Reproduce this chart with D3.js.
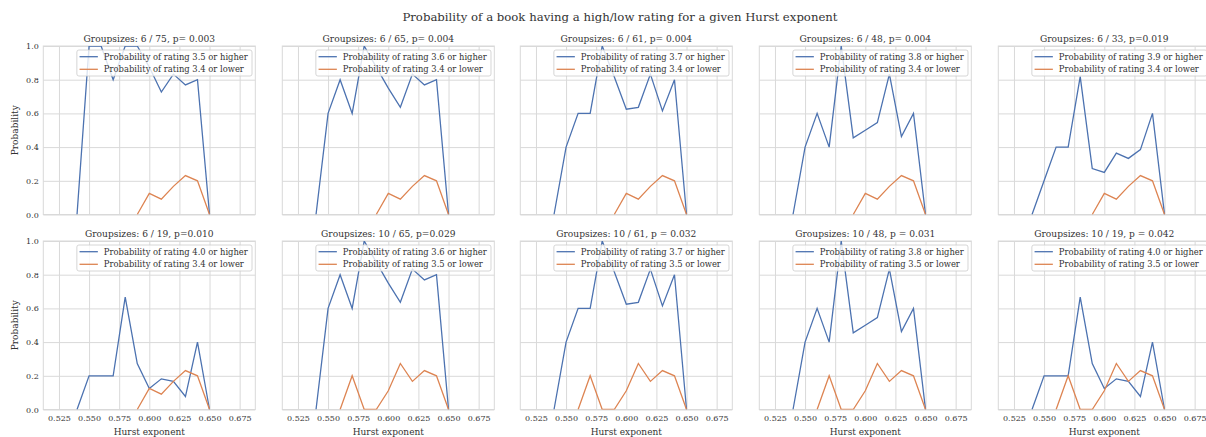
<!DOCTYPE html>
<html>
<head>
<meta charset="utf-8">
<script src="https://cdn.jsdelivr.net/npm/d3@7"></script>
<style>
  html, body { margin: 0; padding: 0; background: #fff; }
  svg { display: block; font-family: "DejaVu Serif", serif; }
</style>
</head>
<body>
<svg id="chart" width="1206" height="437"></svg>
<script>
// Hurst exponent bins (x values)
const hurst = [0.54, 0.55, 0.56, 0.57, 0.58, 0.59, 0.60, 0.61, 0.62, 0.63, 0.64, 0.65];

// Probability of a rating at or above the threshold, per Hurst bin
const high35 = [0, 1.0, 1.0, 0.8, 1.0, 1.0, 0.875, 0.727, 0.833, 0.769, 0.8, 0];
const high36 = [0, 0.6, 0.8, 0.6, 1.0, 0.875, 0.75, 0.636, 0.833, 0.769, 0.8, 0];
const high37 = [0, 0.4, 0.6, 0.6, 1.0, 0.818, 0.625, 0.636, 0.833, 0.615, 0.8, 0];
const high38 = [0, 0.4, 0.6, 0.4, 1.0, 0.455, 0.5, 0.545, 0.833, 0.462, 0.6, 0];
const high39 = [0, 0.2, 0.4, 0.4, 0.818, 0.273, 0.25, 0.364, 0.333, 0.385, 0.6, 0];
const high40 = [0, 0.2, 0.2, 0.2, 0.667, 0.273, 0.125, 0.182, 0.167, 0.077, 0.4, 0];

// Probability of a rating at or below the threshold (null = no data)
const low34 = [null, null, null, null, null, 0, 0.125, 0.091, 0.167, 0.231, 0.2, 0];
const low35 = [null, null, 0, 0.2, 0, 0, 0.111, 0.273, 0.167, 0.231, 0.2, 0];

// Panel definitions
const titles = [
  "Groupsizes: 6 / 75, p= 0.003", "Groupsizes: 6 / 65, p= 0.004", "Groupsizes: 6 / 61, p= 0.004",
  "Groupsizes: 6 / 48, p= 0.004", "Groupsizes: 6 / 33, p=0.019",
  "Groupsizes: 6 / 19, p=0.010", "Groupsizes: 10 / 65, p=0.029", "Groupsizes: 10 / 61, p = 0.032",
  "Groupsizes: 10 / 48, p = 0.031", "Groupsizes: 10 / 19, p = 0.042"
];
const highSeries = [high35, high36, high37, high38, high39, high40, high36, high37, high38, high40];
const lowSeries = [low34, low34, low34, low34, low34, low34, low35, low35, low35, low35];
const highLabels = ["3.5", "3.6", "3.7", "3.8", "3.9", "4.0", "3.6", "3.7", "3.8", "4.0"];
const lowLabels = ["3.4", "3.4", "3.4", "3.4", "3.4", "3.4", "3.5", "3.5", "3.5", "3.5"];

const xTicks = [0.525, 0.55, 0.575, 0.6, 0.625, 0.65, 0.675];
const yTicks = [0, 0.2, 0.4, 0.6, 0.8, 1.0];

const mainTitle = "Probability of a book having a high/low rating for a given Hurst exponent";

// Layout
const colLeft = [43.3, 282.3, 520.3, 759.3, 998.3];
const rowTop = [46, 241];
const pw = 212, ph = 168.5;

const BLUE = "#4c72b0", ORANGE = "#dd8452";
const GRID = "#d9d9d9", TEXT = "#333";

const svg = d3.select("#chart");

svg.append("text")
  .attr("x", 620).attr("y", 21)
  .attr("text-anchor", "middle")
  .attr("font-size", 11.7)
  .attr("fill", TEXT)
  .text(mainTitle);

const x = d3.scaleLinear().domain([0.512, 0.688]).range([0, pw]);
const y = d3.scaleLinear().domain([0, 1]).range([ph, 0]);

const defs = svg.append("defs");
defs.append("clipPath").attr("id", "plotclip")
  .append("rect").attr("x", 0).attr("y", 0).attr("width", pw).attr("height", ph);

titles.forEach((title, i) => {
  const row = Math.floor(i / 5), col = i % 5;
  const g = svg.append("g").attr("transform", `translate(${colLeft[col]},${rowTop[row]})`);

  // grid
  const xAxis = d3.axisBottom(x).tickValues(xTicks).tickSize(-ph)
    .tickFormat(row === 1 ? d3.format(".3f") : () => "");
  const xg = g.append("g").attr("transform", `translate(0,${ph})`).call(xAxis);
  xg.select(".domain").remove();
  xg.selectAll(".tick line").attr("stroke", GRID).attr("stroke-width", 1);
  xg.selectAll(".tick text").attr("fill", TEXT).attr("font-size", 8)
    .attr("font-family", "DejaVu Serif").attr("y", 6).attr("dy", "0.71em");

  const yAxis = d3.axisLeft(y).tickValues(yTicks).tickSize(-pw)
    .tickFormat(col === 0 ? d3.format(".1f") : () => "");
  const yg = g.append("g").call(yAxis);
  yg.select(".domain").remove();
  yg.selectAll(".tick line").attr("stroke", GRID).attr("stroke-width", 1);
  yg.selectAll(".tick text").attr("fill", TEXT).attr("font-size", 8)
    .attr("font-family", "DejaVu Serif").attr("x", -4.5);

  // frame
  g.append("rect").attr("width", pw).attr("height", ph)
    .attr("fill", "none").attr("stroke", GRID).attr("stroke-width", 1);

  // series
  const line = d3.line()
    .defined(d => d[1] !== null)
    .x(d => x(d[0])).y(d => y(d[1]));
  const plot = g.append("g").attr("clip-path", "url(#plotclip)");
  plot.append("path").datum(hurst.map((h, k) => [h, highSeries[i][k]]))
    .attr("d", line).attr("fill", "none").attr("stroke", BLUE).attr("stroke-width", 1.3);
  plot.append("path").datum(hurst.map((h, k) => [h, lowSeries[i][k]]))
    .attr("d", line).attr("fill", "none").attr("stroke", ORANGE).attr("stroke-width", 1.3);

  // subplot title
  g.append("text").attr("x", pw / 2).attr("y", -4.5)
    .attr("text-anchor", "middle").attr("font-size", 9.1).attr("fill", TEXT)
    .text(title);

  // legend
  const leg = g.append("g");
  const box = leg.append("rect").attr("rx", 2).attr("ry", 2)
    .attr("fill", "#fff").attr("fill-opacity", 0.8)
    .attr("stroke", "#cccccc").attr("stroke-width", 0.8);
  const entries = [
    { c: BLUE, t: `Probability of rating ${highLabels[i]} or higher` },
    { c: ORANGE, t: `Probability of rating ${lowLabels[i]} or lower` }
  ];
  let maxW = 0;
  entries.forEach((e, k) => {
    const yy = 6.7 + k * 12.6;
    leg.append("line").attr("x1", 2.7).attr("x2", 21).attr("y1", yy).attr("y2", yy)
      .attr("stroke", e.c).attr("stroke-width", 1.3);
    const t = leg.append("text").attr("x", 27).attr("y", yy).attr("dy", "0.35em")
      .attr("font-size", 8.4).attr("fill", TEXT).text(e.t);
    maxW = Math.max(maxW, t.node().getComputedTextLength());
  });
  const bw = 27 + maxW + 4.2, bh = 26;
  box.attr("width", bw).attr("height", bh);
  leg.attr("transform", `translate(${pw - 3.3 - bw},4)`);

  if (col === 0) {
    g.append("text")
      .attr("transform", `translate(${15 - colLeft[col]},${ph / 2}) rotate(-90)`)
      .attr("text-anchor", "middle").attr("dy", "0.35em")
      .attr("font-size", 9).attr("fill", TEXT).text("Probability");
  }
  if (row === 1) {
    g.append("text").attr("x", pw / 2).attr("y", ph + 25.5)
      .attr("text-anchor", "middle").attr("font-size", 9).attr("fill", TEXT)
      .text("Hurst exponent");
  }
});
</script>
</body>
</html>
